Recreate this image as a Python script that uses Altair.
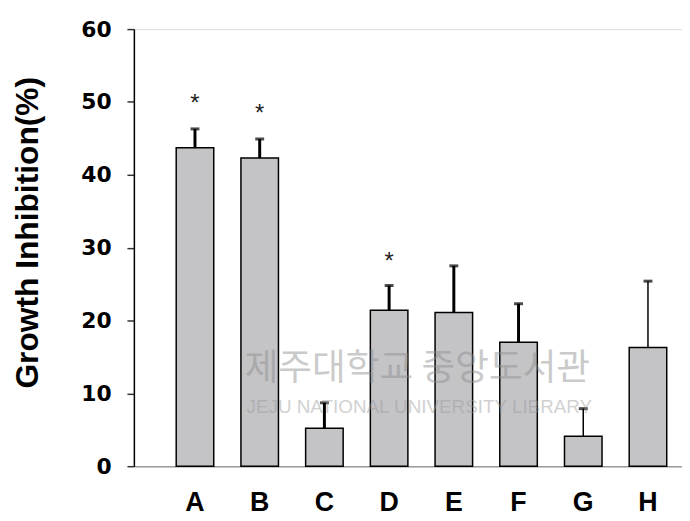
import altair as alt
import pandas as pd

cats = ["A", "B", "C", "D", "E", "F", "G", "H"]
means = [43.7, 42.3, 5.2, 21.4, 21.1, 17.0, 4.1, 16.3]
errs = [2.6, 2.6, 3.5, 3.4, 6.4, 5.3, 3.8, 9.1]
star_cats = ["A", "B", "D"]
star_pos = [50.5, 49.1, 28.8]

df = pd.DataFrame({"cat": cats, "mean": means, "err": errs})
df["upper"] = df["mean"] + df["err"]
stars = pd.DataFrame({"cat": star_cats, "pos": star_pos, "label": ["*"] * len(star_cats)})

xscale = alt.Scale(domain=cats, paddingInner=0.42, paddingOuter=0.445, align=0.735)
yscale = alt.Scale(domain=[0, 60], nice=False)

x = alt.X("cat:N", scale=xscale, sort=cats, title=None,
          axis=alt.Axis(labelAngle=0, ticks=False, domainColor="#9a9a9a", domainWidth=1.5,
                        labelFont="Liberation Sans", labelFontWeight="bold", labelFontSize=27,
                        labelColor="#000000", labelPadding=24, labelBaseline="top"))
y = alt.Y("mean:Q", scale=yscale, title="Growth Inhibition(%)",
          axis=alt.Axis(values=[0, 10, 20, 30, 40, 50, 60], grid=False, domainColor="#000000",
                        domainWidth=1.5, tickColor="#333333", tickWidth=1.5, tickSize=7,
                        labelFont="DejaVu Sans", labelFontWeight="bold", labelFontSize=22,
                        labelColor="#000000", labelPadding=16,
                        titleFont="Liberation Sans", titleFontWeight="bold", titleFontSize=32,
                        titleColor="#000000", titleAngle=270, titleAlign="center",
                        titleBaseline="middle", titleX=-107, titleY=205))

base = alt.Chart(df)

bars = base.mark_bar(fill="#c4c4c7", stroke="#000000", strokeWidth=1.5).encode(x=x, y=y)

rules = base.mark_rule(color="#000000").encode(
    x=alt.X("cat:N", scale=xscale, sort=cats),
    y=alt.Y("mean:Q", scale=yscale),
    y2="upper:Q",
    strokeWidth=alt.condition(alt.FieldOneOfPredicate(field="cat", oneOf=["G", "H"]),
                              alt.value(1.5), alt.value(3)),
)

caps = base.mark_tick(color="#000000", size=9, thickness=3, orient="horizontal").encode(
    x=alt.X("cat:N", scale=xscale, sort=cats),
    y=alt.Y("upper:Q", scale=yscale),
)

star_text = alt.Chart(stars).mark_text(font="Liberation Sans", fontSize=24, color="#222222",
                                       baseline="alphabetic", dy=13).encode(
    x=alt.X("cat:N", scale=xscale, sort=cats),
    y=alt.Y("pos:Q", scale=yscale),
    text="label:N",
)

wm_kr = alt.Chart(pd.DataFrame({"t": ["제주대학교 중앙도서관"]})).mark_text(
    font="Noto Sans CJK KR", fontSize=37, color="#8c8c8c", opacity=0.45, align="center",
    baseline="middle").encode(x=alt.value(286), y=alt.value(343), text="t:N")

wm_en = alt.Chart(pd.DataFrame({"t": ["JEJU NATIONAL UNIVERSITY  LIBRARY"]})).mark_text(
    font="Liberation Sans", fontSize=19, color="#9a9a9a", opacity=0.45, align="center",
    baseline="middle").encode(x=alt.value(288), y=alt.value(381), text="t:N")

chart = alt.layer(bars, rules, caps, star_text, wm_kr, wm_en).properties(
    width=553, height=441,
    autosize=alt.AutoSizeParams(type="none"),
    padding={"left": 127, "top": 19, "right": 0, "bottom": 52},
).configure_view(stroke=None).configure(background="#ffffff")

chart.save("out.html", embed_options={"renderer": "svg", "actions": False})
